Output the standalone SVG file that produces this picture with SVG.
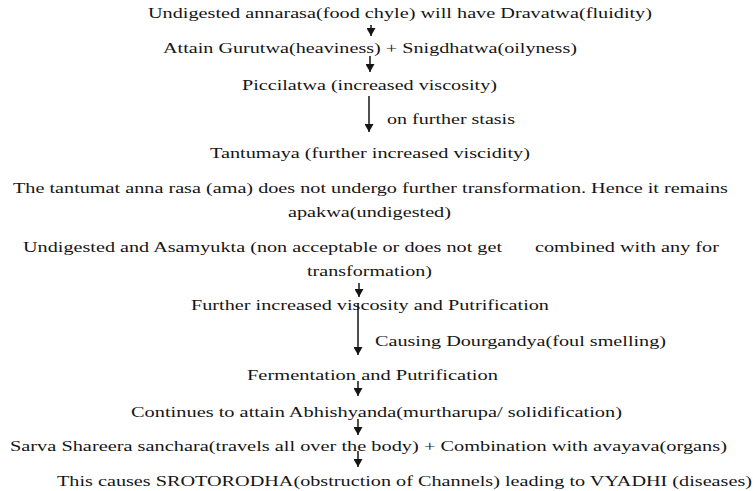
<svg xmlns="http://www.w3.org/2000/svg" width="755" height="491" viewBox="0 0 755 491" font-family="Liberation Serif, Times New Roman, DejaVu Serif, serif" font-size="14">
<style>
text{fill:#151515}
.c line{stroke:#151515;stroke-width:1.5}
</style>
<defs>
<marker id="ah" markerWidth="9" markerHeight="9" refX="8" refY="4.5" orient="auto" markerUnits="userSpaceOnUse"><path d="M0,0 L8,4.5 L0,9 z" fill="#151515"/></marker>
</defs>
<rect width="755" height="491" fill="#fff"/>
<g id="n1"><text transform="scale(1.445,1)" x="102.42" y="18" textLength="348.79" lengthAdjust="spacingAndGlyphs">Undigested annarasa(food chyle) will have Dravatwa(fluidity)</text></g>
<g id="n2"><text transform="scale(1.445,1)" x="112.80" y="53" textLength="286.51" lengthAdjust="spacingAndGlyphs">Attain Gurutwa(heaviness) + Snigdhatwa(oilyness)</text></g>
<g id="n3"><text transform="scale(1.445,1)" x="167.47" y="90" textLength="176.47" lengthAdjust="spacingAndGlyphs">Piccilatwa (increased viscosity)</text></g>
<g id="n4"><text transform="scale(1.445,1)" x="145.33" y="158" textLength="221.45" lengthAdjust="spacingAndGlyphs">Tantumaya (further increased viscidity)</text></g>
<g id="n5"><text transform="scale(1.445,1)" x="9.00" y="193" textLength="494.81" lengthAdjust="spacingAndGlyphs">The tantumat anna rasa (ama) does not undergo further transformation. Hence it remains</text><text transform="scale(1.445,1)" x="199.31" y="217" textLength="112.80" lengthAdjust="spacingAndGlyphs">apakwa(undigested)</text></g>
<g id="n6"><text transform="scale(1.445,1)" x="15.92" y="252" textLength="331.49" lengthAdjust="spacingAndGlyphs">Undigested and Asamyukta (non acceptable or does not get</text><text transform="scale(1.445,1)" x="370.24" y="252" textLength="127.34" lengthAdjust="spacingAndGlyphs">combined with any for</text><text transform="scale(1.445,1)" x="212.46" y="276" textLength="86.51" lengthAdjust="spacingAndGlyphs">transformation)</text></g>
<g id="n7"><text transform="scale(1.445,1)" x="132.18" y="310" textLength="247.75" lengthAdjust="spacingAndGlyphs">Further increased viscosity and Putrification</text></g>
<g id="n8"><text transform="scale(1.445,1)" x="170.93" y="380" textLength="173.70" lengthAdjust="spacingAndGlyphs">Fermentation  and Putrification</text></g>
<g id="n9"><text transform="scale(1.445,1)" x="90.66" y="417" textLength="339.79" lengthAdjust="spacingAndGlyphs">Continues to attain Abhishyanda(murtharupa/ solidification)</text></g>
<g id="n10"><text transform="scale(1.445,1)" x="6.92" y="451" textLength="496.19" lengthAdjust="spacingAndGlyphs">Sarva Shareera sanchara(travels all over the body) + Combination with avayava(organs)</text></g>
<g id="n11"><text transform="scale(1.445,1)" x="39.45" y="486" textLength="480.97" lengthAdjust="spacingAndGlyphs">This causes SROTORODHA(obstruction of Channels) leading to VYADHI (diseases)</text></g>
<g id="connectors" class="c">
<line x1="371" y1="25" x2="371" y2="36" marker-end="url(#ah)"/>
<line x1="370" y1="56" x2="370" y2="72" marker-end="url(#ah)"/>
<line x1="369" y1="96" x2="369" y2="132" marker-end="url(#ah)"/>
<line x1="359" y1="283" x2="359" y2="297" marker-end="url(#ah)"/>
<line x1="358" y1="303" x2="358" y2="355" marker-end="url(#ah)"/>
<line x1="358" y1="381" x2="358" y2="396" marker-end="url(#ah)"/>
<line x1="358" y1="419" x2="358" y2="435" marker-end="url(#ah)"/>
<line x1="358" y1="451" x2="358" y2="467" marker-end="url(#ah)"/>
<g id="l1"><text transform="scale(1.445,1)" x="267.82" y="124" textLength="88.58" lengthAdjust="spacingAndGlyphs">on further stasis</text></g>
<g id="l2"><text transform="scale(1.445,1)" x="259.52" y="346" textLength="201.38" lengthAdjust="spacingAndGlyphs">Causing Dourgandya(foul smelling)</text></g>
</g>
</svg>
